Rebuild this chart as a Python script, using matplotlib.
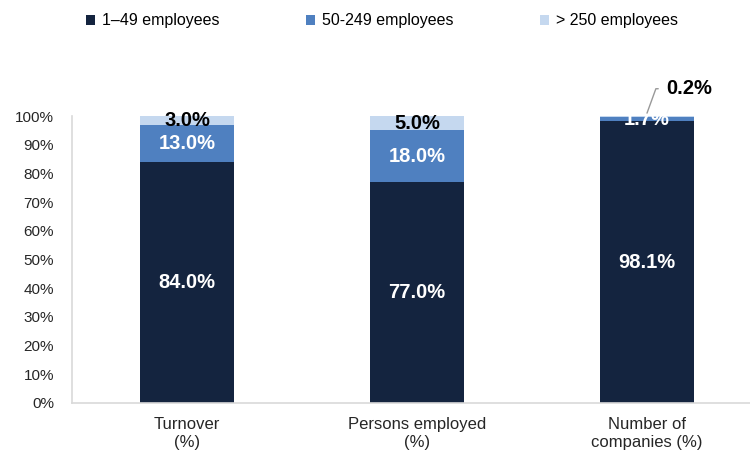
import matplotlib.pyplot as plt
import numpy as np

categories = ["Turnover\n(%)", "Persons employed\n(%)", "Number of\ncompanies (%)"]
series_names = ["1\u201349 employees", "50-249 employees", "> 250 employees"]
small = [84.0, 77.0, 98.1]
medium = [13.0, 18.0, 1.7]
large = [3.0, 5.0, 0.2]
colors = ["#14243f", "#4f80c0", "#c5d8ef"]

plt.rcParams['font.family'] = ['Liberation Sans', 'DejaVu Sans']

fig = plt.figure(figsize=(7.5, 4.53), dpi=100)
ax = fig.add_axes([72/750, (453-403)/453, 690/750, 287/453])

x = np.arange(len(categories))
w = 0.405
bottom = np.zeros(len(categories))
series = [small, medium, large]
for vals, name, col in zip(series, series_names, colors):
    ax.bar(x, vals, w, bottom=bottom, color=col, label=name, zorder=2)
    bottom += np.array(vals)

ax.set_xlim(-0.5, 2.5)
ax.set_ylim(0, 100)
ax.set_yticks(np.arange(0, 101, 10))
ax.set_yticklabels([f"{v}%" for v in range(0, 101, 10)], fontsize=11, color="#262626")
ax.set_xticks(x)
ax.set_xticklabels(categories, fontsize=12, color="#262626", linespacing=1.3)
ax.tick_params(axis="y", length=0, pad=13)
ax.tick_params(axis="x", length=0, pad=10)
for s in ["top", "right"]:
    ax.spines[s].set_visible(False)
for s in ["left", "bottom"]:
    ax.spines[s].set_color("#d9d9d9")
    ax.spines[s].set_linewidth(1.2)

# value labels
fs = 14.5
for i in range(len(categories)):
    ax.text(x[i], small[i] / 2, f"{small[i]:.1f}%", ha="center", va="center",
            color="white", fontsize=fs, fontweight="bold")
    ax.text(x[i], small[i] + medium[i] / 2, f"{medium[i]:.1f}%", ha="center", va="center",
            color="white", fontsize=fs, fontweight="bold")
    if large[i] >= 1:
        ax.text(x[i], small[i] + medium[i] + large[i] / 2, f"{large[i]:.1f}%",
                ha="center", va="center", color="black", fontsize=fs, fontweight="bold")
    else:
        ax.annotate(f"{large[i]:.1f}%", xy=(x[i], 101), xytext=(x[i] + 0.085, 109.5),
                    ha="left", va="center", color="black", fontsize=fs, fontweight="bold",
                    annotation_clip=False,
                    arrowprops=dict(arrowstyle="-", color="#999999", lw=1.0,
                                    connectionstyle="angle,angleA=0,angleB=70,rad=0",
                                    shrinkA=4, shrinkB=0))

handles, labels = ax.get_legend_handles_labels()
fig.legend(handles, labels, loc="center", bbox_to_anchor=(382/750, 1 - 21/453), ncol=3,
           frameon=False, fontsize=11.5, handlelength=0.55, handleheight=0.55,
           columnspacing=5.4, handletextpad=0.45)

fig.savefig("out.png", dpi=100)
